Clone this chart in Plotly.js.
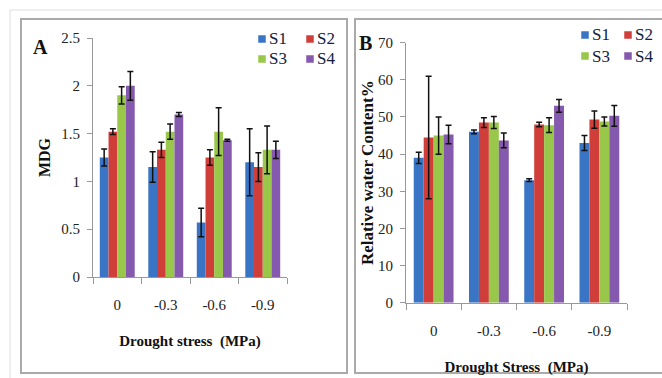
<!DOCTYPE html>
<html><head><meta charset="utf-8">
<script src="https://cdn.plot.ly/plotly-3.0.1.min.js"></script>
<style>html,body{margin:0;padding:0;background:#fff}#c{width:662px;height:378px}</style>
</head><body><div id="c"></div>
<script>
const categories = ['0', '-0.3', '-0.6', '-0.9'];
const seriesNames = ['S1', 'S2', 'S3', 'S4'];
const colors = ['#3a74c4', '#d03e3a', '#98c74a', '#8559ad'];

// Panel A: MDG
const mdgS1 = [1.25, 1.15, 0.57, 1.20];
const mdgS2 = [1.52, 1.33, 1.25, 1.15];
const mdgS3 = [1.90, 1.52, 1.52, 1.33];
const mdgS4 = [2.00, 1.70, 1.43, 1.33];
const mdgErrS1 = [0.09, 0.16, 0.15, 0.35];
const mdgErrS2 = [0.03, 0.08, 0.08, 0.15];
const mdgErrS3 = [0.09, 0.08, 0.25, 0.25];
const mdgErrS4 = [0.15, 0.02, 0.01, 0.09];

// Panel B: Relative water content %
const rwcS1 = [39.0, 46.0, 33.0, 43.0];
const rwcS2 = [44.5, 48.5, 48.0, 49.3];
const rwcS3 = [45.0, 48.5, 47.8, 48.8];
const rwcS4 = [45.3, 43.7, 53.0, 50.3];
const rwcErrS1 = [1.5, 0.5, 0.4, 2.0];
const rwcErrS2 = [16.5, 1.3, 0.6, 2.3];
const rwcErrS3 = [5.0, 1.6, 2.0, 1.2];
const rwcErrS4 = [2.5, 2.0, 1.7, 2.8];

const mdg = [mdgS1, mdgS2, mdgS3, mdgS4];
const mdgErr = [mdgErrS1, mdgErrS2, mdgErrS3, mdgErrS4];
const rwc = [rwcS1, rwcS2, rwcS3, rwcS4];
const rwcErr = [rwcErrS1, rwcErrS2, rwcErrS3, rwcErrS4];

const FONT = '"Liberation Serif", "Times New Roman", serif';
const traces = [];
for (let i = 0; i < 4; i++) {
  traces.push({
    type: 'bar', x: categories, y: mdg[i], name: seriesNames[i],
    xaxis: 'x', yaxis: 'y', showlegend: false,
    marker: {color: colors[i]},
    error_y: {type: 'data', array: mdgErr[i], visible: true, color: '#111', thickness: 1.5, width: 3}
  });
}
for (let i = 0; i < 4; i++) {
  traces.push({
    type: 'bar', x: categories, y: rwc[i], name: seriesNames[i],
    xaxis: 'x2', yaxis: 'y2', showlegend: false,
    marker: {color: colors[i]},
    error_y: {type: 'data', array: rwcErr[i], visible: true, color: '#111', thickness: 1.5, width: 3}
  });
}

const W = 662, H = 378;
const px = v => v / W, py = v => 1 - v / H;

const axBase = {
  showgrid: false, zeroline: false, showline: true, linecolor: '#999', linewidth: 1,
  ticks: 'outside', ticklen: 5, tickcolor: '#999', tickfont: {family: FONT, size: 15, color: '#222'},
  automargin: false
};

const shapes = [
  {type: 'line', xref: 'paper', yref: 'paper', x0: px(10), x1: 1, y0: py(10), y1: py(10), line: {color: '#ddd', width: 1}},
  {type: 'line', xref: 'paper', yref: 'paper', x0: px(10), x1: px(10), y0: py(10), y1: 0, line: {color: '#ddd', width: 1}},
  {type: 'rect', xref: 'paper', yref: 'paper', x0: px(21), x1: px(347), y0: py(19), y1: py(373), line: {color: '#aaa', width: 2}},
  {type: 'rect', xref: 'paper', yref: 'paper', x0: px(355), x1: px(668), y0: py(19), y1: py(373), line: {color: '#aaa', width: 2}}
];
const annotations = [
  {text: '<b>A</b>', xref: 'paper', yref: 'paper', x: px(40), y: py(47), xanchor: 'center', yanchor: 'middle', showarrow: false, font: {family: FONT, size: 20, color: '#111'}},
  {text: '<b>B</b>', xref: 'paper', yref: 'paper', x: px(366), y: py(43), xanchor: 'center', yanchor: 'middle', showarrow: false, font: {family: FONT, size: 20, color: '#111'}}
];

// manual 2x2 legends
const legendSpots = [
  {cols: [262, 310], rows: [39, 59]},
  {cols: [585, 628], rows: [35, 56]}
];
legendSpots.forEach(sp => {
  for (let i = 0; i < 4; i++) {
    const cx = sp.cols[i % 2], cy = sp.rows[Math.floor(i / 2)];
    shapes.push({type: 'rect', xref: 'paper', yref: 'paper',
      x0: px(cx - 3.5), x1: px(cx + 3.5), y0: py(cy - 3.5), y1: py(cy + 3.5),
      fillcolor: colors[i], line: {color: colors[i], width: 0.5}});
    annotations.push({text: seriesNames[i], xref: 'paper', yref: 'paper',
      x: px(cx + 5), y: py(cy), xanchor: 'left', yanchor: 'middle', showarrow: false,
      font: {family: FONT, size: 17, color: '#14203c'}});
  }
});

const layout = {
  width: W, height: H, margin: {l: 0, r: 0, t: 0, b: 0},
  paper_bgcolor: '#fff', plot_bgcolor: '#fff', showlegend: false,
  barmode: 'group', bargap: 0.28, bargroupgap: 0,
  font: {family: FONT},
  xaxis: Object.assign({}, axBase, {domain: [px(93), px(287)], anchor: 'y', type: 'category', tickson: 'boundaries', ticklen: 6,
    ticklabelstandoff: 14,
    title: {text: '<b>Drought stress  (MPa)</b>', font: {family: FONT, size: 15, color: '#111'}, standoff: 23}}),
  yaxis: Object.assign({}, axBase, {domain: [py(277), py(38)], anchor: 'x', range: [0, 2.5], dtick: 0.5,
    ticklabelstandoff: 4,
    title: {text: '<b>MDG</b>', font: {family: FONT, size: 16, color: '#111'}, standoff: 6}}),
  xaxis2: Object.assign({}, axBase, {domain: [px(406), px(627)], anchor: 'y2', type: 'category', tickson: 'boundaries', ticklen: 6,
    ticklabelstandoff: 14,
    title: {text: '<b>Drought Stress  (MPa)</b>', font: {family: FONT, size: 15, color: '#111'}, standoff: 23}}),
  yaxis2: Object.assign({}, axBase, {domain: [py(302.7), py(42.7)], anchor: 'x2', range: [0, 70], dtick: 10,
    ticklabelstandoff: 4,
    title: {text: '<b>Relative water Content%</b>', font: {family: FONT, size: 17, color: '#111'}, standoff: 0}}),
  shapes: shapes,
  annotations: annotations
};

Plotly.newPlot('c', traces, layout, {displayModeBar: false, staticPlot: true});
</script></body></html>
